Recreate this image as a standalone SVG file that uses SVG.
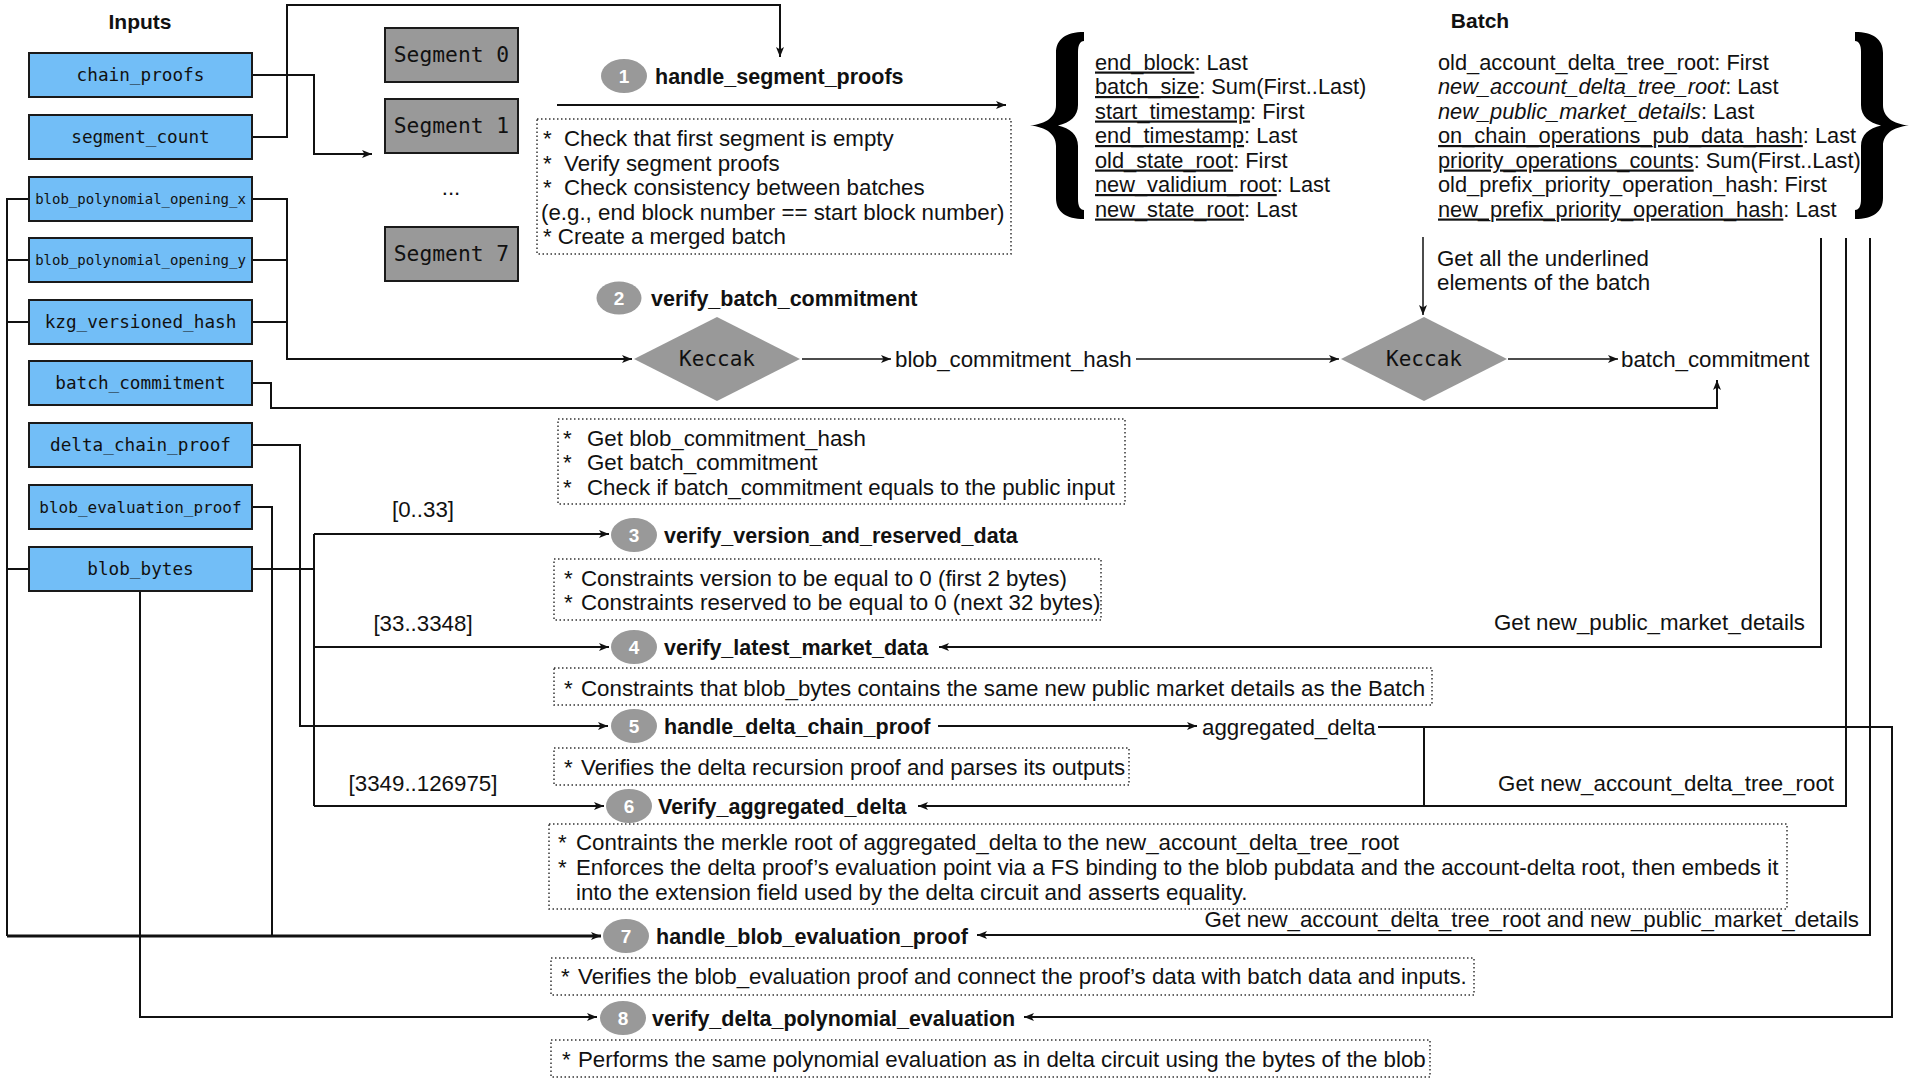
<svg xmlns="http://www.w3.org/2000/svg" width="1920" height="1080" viewBox="0 0 1920 1080">
<defs>
<style>
.t{font-family:"Liberation Sans",Arial,sans-serif;font-size:22.3px;fill:#111}
.bt{font-family:"Liberation Sans",Arial,sans-serif;font-size:21.8px;fill:#111}
.lbl{font-family:"Liberation Sans",Arial,sans-serif;font-size:21.5px;font-weight:bold;fill:#111}
.ttl{font-family:"Liberation Sans",Arial,sans-serif;font-size:21px;font-weight:bold;fill:#111}
.num{font-family:"Liberation Sans",Arial,sans-serif;font-size:19px;font-weight:bold;fill:#fff;text-anchor:middle}
.mono{font-family:"DejaVu Sans Mono","Liberation Mono",monospace;fill:#111;text-anchor:middle}
.inp{fill:#72BEF7;stroke:#1a1a1a;stroke-width:2}
.seg{fill:#999;stroke:#1a1a1a;stroke-width:2}
.dia{fill:#999}
.circ{fill:#999}
.dot{fill:none;stroke:#333;stroke-width:1.5;stroke-dasharray:1.5 2.5}
.c{fill:none;stroke:#111;stroke-width:2}
.cs{fill:none;stroke:#111;stroke-width:1.5}
.u{text-decoration:underline}
.i{font-style:italic}
</style>
<marker id="ah" markerWidth="10" markerHeight="8" refX="10" refY="4" orient="auto" markerUnits="userSpaceOnUse">
<path d="M0,0 L10,4 L0,8 L2.5,4 Z" fill="#111"/>
</marker>
</defs>
<rect width="1920" height="1080" fill="#fff"/>

<g id="connectors">
<path class="c" d="M252 137 H287 V5 H780 V57" marker-end="url(#ah)"/>
<path class="c" d="M252 75 H314 V154 H372" marker-end="url(#ah)"/>
<path class="c" d="M252 199 H287 V359 H632" marker-end="url(#ah)"/>
<path class="c" d="M252 260 H287"/>
<path class="c" d="M252 322 H287"/>
<path class="c" d="M252 383 H271 V408 H1717 V380" marker-end="url(#ah)"/>
<path class="c" d="M557 105 H1006" marker-end="url(#ah)"/>
<path class="cs" d="M802 359 H891" marker-end="url(#ah)"/>
<path class="cs" d="M1136 359 H1339" marker-end="url(#ah)"/>
<path class="cs" d="M1508 359 H1618" marker-end="url(#ah)"/>
<path class="cs" d="M1423 237 V315" marker-end="url(#ah)"/>
<path class="c" d="M252 569 H314"/>
<path class="c" d="M314 534 V806"/>
<path class="c" d="M314 534 H609" marker-end="url(#ah)"/>
<path class="c" d="M314 647 H609" marker-end="url(#ah)"/>
<path class="c" d="M314 806 H604" marker-end="url(#ah)"/>
<path class="c" d="M252 445 H300 V726 H608" marker-end="url(#ah)"/>
<path class="c" d="M252 507 H272 V936"/>
<path class="c" d="M29 199 H7 V936"/>
<path class="c" d="M29 260 H7"/>
<path class="c" d="M29 322 H7"/>
<path class="c" d="M29 569 H7"/>
<path fill="none" stroke="#111" stroke-width="3" d="M7 936 H601" marker-end="url(#ah)"/>
<path class="c" d="M140 591 V1017 H597" marker-end="url(#ah)"/>
<path class="c" d="M1821 238 V647 H939" marker-end="url(#ah)"/>
<path class="c" d="M1846 238 V806 H918" marker-end="url(#ah)"/>
<path class="c" d="M1870 238 V935 H977" marker-end="url(#ah)"/>
<path class="c" d="M938 726 H1197" marker-end="url(#ah)"/>
<path class="c" d="M1378 727 H1892 V1017 H1024" marker-end="url(#ah)"/>
<path class="c" d="M1424 727 V806"/>
</g>

<g id="inputs">
<text class="ttl" x="140" y="29" text-anchor="middle">Inputs</text>
<g id="in-chain_proofs"><rect class="inp" x="29" y="53" width="223" height="44"/><text class="mono" x="140.5" y="81" font-size="17.7">chain_proofs</text></g>
<g id="in-segment_count"><rect class="inp" x="29" y="115" width="223" height="44"/><text class="mono" x="140.5" y="143" font-size="17.7">segment_count</text></g>
<g id="in-blob_polynomial_opening_x"><rect class="inp" x="29" y="177" width="223" height="44"/><text class="mono" x="140.5" y="204" font-size="14">blob_polynomial_opening_x</text></g>
<g id="in-blob_polynomial_opening_y"><rect class="inp" x="29" y="238" width="223" height="44"/><text class="mono" x="140.5" y="265" font-size="14">blob_polynomial_opening_y</text></g>
<g id="in-kzg_versioned_hash"><rect class="inp" x="29" y="300" width="223" height="44"/><text class="mono" x="140.5" y="328" font-size="17.7">kzg_versioned_hash</text></g>
<g id="in-batch_commitment"><rect class="inp" x="29" y="361" width="223" height="44"/><text class="mono" x="140.5" y="389" font-size="17.7">batch_commitment</text></g>
<g id="in-delta_chain_proof"><rect class="inp" x="29" y="423" width="223" height="44"/><text class="mono" x="140.5" y="451" font-size="17.7">delta_chain_proof</text></g>
<g id="in-blob_evaluation_proof"><rect class="inp" x="29" y="485" width="223" height="44"/><text class="mono" x="140.5" y="513" font-size="16">blob_evaluation_proof</text></g>
<g id="in-blob_bytes"><rect class="inp" x="29" y="547" width="223" height="44"/><text class="mono" x="140.5" y="575" font-size="17.7">blob_bytes</text></g>
</g>

<g id="segments">
<g id="seg0"><rect class="seg" x="385" y="28" width="133" height="54"/><text class="mono" x="451.5" y="62" font-size="21.3">Segment 0</text></g>
<g id="seg1"><rect class="seg" x="385" y="99" width="133" height="54"/><text class="mono" x="451.5" y="133" font-size="21.3">Segment 1</text></g>
<text class="t" x="451" y="195" text-anchor="middle">...</text>
<g id="seg7"><rect class="seg" x="385" y="227" width="133" height="54"/><text class="mono" x="451.5" y="261" font-size="21.3">Segment 7</text></g>
</g>

<g id="step1">
<ellipse class="circ" cx="624" cy="76" rx="23" ry="17"/><text class="num" x="624" y="83">1</text>
<text class="lbl" x="655" y="84">handle_segment_proofs</text>
<rect class="dot" x="537" y="119" width="474" height="135"/>
<text class="t" x="543" y="146">*</text><text class="t" x="564" y="146">Check that first segment is empty</text>
<text class="t" x="543" y="170.5">*</text><text class="t" x="564" y="170.5">Verify segment proofs</text>
<text class="t" x="543" y="195">*</text><text class="t" x="564" y="195">Check consistency between batches</text>
<text class="t" x="541" y="219.5">(e.g., end block number == start block number)</text>
<text class="t" x="543" y="244">* Create a merged batch</text>
</g>

<g id="batch">
<text class="ttl" x="1480" y="28" text-anchor="middle">Batch</text>
<path fill="#000" d="M1084 32 L1084 41 C1080 41 1078 45 1078 52 L1078 105 C1078 116 1070 123 1058 125.5 C1070 128 1078 135 1078 146 L1078 199 C1078 206 1080 210 1084 210 L1084 219 C1066 219 1056 212 1056 198 L1056 146 C1056 134 1046 127 1030 125.5 C1046 124 1056 117 1056 105 L1056 53 C1056 39 1066 32 1084 32 Z"/>
<path fill="#000" transform="translate(2939,0) scale(-1,1)" d="M1084 32 L1084 41 C1080 41 1078 45 1078 52 L1078 105 C1078 116 1070 123 1058 125.5 C1070 128 1078 135 1078 146 L1078 199 C1078 206 1080 210 1084 210 L1084 219 C1066 219 1056 212 1056 198 L1056 146 C1056 134 1046 127 1030 125.5 C1046 124 1056 117 1056 105 L1056 53 C1056 39 1066 32 1084 32 Z"/>
<text class="bt" x="1095" y="69.5"><tspan class="u">end_block</tspan>: Last</text>
<text class="bt" x="1095" y="94"><tspan class="u">batch_size</tspan>: Sum(First..Last)</text>
<text class="bt" x="1095" y="118.5"><tspan class="u">start_timestamp</tspan>: First</text>
<text class="bt" x="1095" y="143"><tspan class="u">end_timestamp</tspan>: Last</text>
<text class="bt" x="1095" y="167.5"><tspan class="u">old_state_root</tspan>: First</text>
<text class="bt" x="1095" y="192"><tspan class="u">new_validium_root</tspan>: Last</text>
<text class="bt" x="1095" y="216.5"><tspan class="u">new_state_root</tspan>: Last</text>
<text class="bt" x="1438" y="69.5">old_account_delta_tree_root: First</text>
<text class="bt" x="1438" y="94"><tspan class="i">new_account_delta_tree_root</tspan>: Last</text>
<text class="bt" x="1438" y="118.5"><tspan class="i">new_public_market_details</tspan>: Last</text>
<text class="bt" x="1438" y="143"><tspan class="u">on_chain_operations_pub_data_hash</tspan>: Last</text>
<text class="bt" x="1438" y="167.5"><tspan class="u">priority_operations_counts</tspan>: Sum(First..Last)</text>
<text class="bt" x="1438" y="192">old_prefix_priority_operation_hash: First</text>
<text class="bt" x="1438" y="216.5"><tspan class="u">new_prefix_priority_operation_hash</tspan>: Last</text>
<text class="t" x="1437" y="266">Get all the underlined</text>
<text class="t" x="1437" y="290">elements of the batch</text>
</g>

<g id="step2">
<ellipse class="circ" cx="619" cy="298" rx="22.5" ry="16.5"/><text class="num" x="619" y="305">2</text>
<text class="lbl" x="651" y="306">verify_batch_commitment</text>
<g id="keccak1"><polygon class="dia" points="634,359 717,317 800,359 717,401"/><text class="mono" x="717" y="366" font-size="21" fill="#222">Keccak</text></g>
<text class="t" x="895" y="367">blob_commitment_hash</text>
<g id="keccak2"><polygon class="dia" points="1341,359 1424,317 1507,359 1424,401"/><text class="mono" x="1424" y="366" font-size="21" fill="#222">Keccak</text></g>
<text class="t" x="1621" y="367">batch_commitment</text>
<rect class="dot" x="558" y="419" width="567" height="85"/>
<text class="t" x="563" y="446">*</text><text class="t" x="587" y="446">Get blob_commitment_hash</text>
<text class="t" x="563" y="470">*</text><text class="t" x="587" y="470">Get batch_commitment</text>
<text class="t" x="563" y="494.5">*</text><text class="t" x="587" y="494.5">Check if batch_commitment equals to the public input</text>
</g>

<g id="step3">
<text class="t" x="423" y="517" text-anchor="middle">[0..33]</text>
<ellipse class="circ" cx="634" cy="535" rx="23" ry="17"/><text class="num" x="634" y="542">3</text>
<text class="lbl" x="664" y="543">verify_version_and_reserved_data</text>
<rect class="dot" x="554" y="559" width="547" height="61"/>
<text class="t" x="564" y="586">*</text><text class="t" x="581" y="586">Constraints version to be equal to 0 (first 2 bytes)</text>
<text class="t" x="564" y="610">*</text><text class="t" x="581" y="610">Constraints reserved to be equal to 0 (next 32 bytes)</text>
</g>

<g id="step4">
<text class="t" x="423" y="631" text-anchor="middle">[33..3348]</text>
<ellipse class="circ" cx="634" cy="647" rx="23" ry="17"/><text class="num" x="634" y="654">4</text>
<text class="lbl" x="664" y="655">verify_latest_market_data</text>
<text class="t" x="1805" y="630" text-anchor="end">Get new_public_market_details</text>
<rect class="dot" x="554" y="668" width="878" height="37"/>
<text class="t" x="564" y="696">*</text><text class="t" x="581" y="696">Constraints that blob_bytes contains the same new public market details as the Batch</text>
</g>

<g id="step5">
<ellipse class="circ" cx="634" cy="726" rx="23" ry="17"/><text class="num" x="634" y="733">5</text>
<text class="lbl" x="664" y="734">handle_delta_chain_proof</text>
<text class="t" x="1202" y="735">aggregated_delta</text>
<rect class="dot" x="554" y="748" width="575" height="37"/>
<text class="t" x="564" y="775">*</text><text class="t" x="581" y="775">Verifies the delta recursion proof and parses its outputs</text>
</g>

<g id="step6">
<text class="t" x="423" y="791" text-anchor="middle">[3349..126975]</text>
<ellipse class="circ" cx="629" cy="806" rx="23" ry="17"/><text class="num" x="629" y="813">6</text>
<text class="lbl" x="658" y="814">Verify_aggregated_delta</text>
<text class="t" x="1834" y="791" text-anchor="end">Get new_account_delta_tree_root</text>
<rect class="dot" x="549" y="824" width="1238" height="85"/>
<text class="t" x="558" y="850">*</text><text class="t" x="576" y="850">Contraints the merkle root of aggregated_delta to the new_account_delta_tree_root</text>
<text class="t" x="558" y="875">*</text><text class="t" x="576" y="875">Enforces the delta proof’s evaluation point via a FS binding to the blob pubdata and the account-delta root, then embeds it</text>
<text class="t" x="576" y="900">into the extension field used by the delta circuit and asserts equality.</text>
</g>

<g id="step7">
<text class="t" x="1859" y="927" text-anchor="end">Get new_account_delta_tree_root and new_public_market_details</text>
<ellipse class="circ" cx="626" cy="936" rx="23" ry="17"/><text class="num" x="626" y="943">7</text>
<text class="lbl" x="656" y="944">handle_blob_evaluation_proof</text>
<rect class="dot" x="551" y="958" width="923" height="37"/>
<text class="t" x="561" y="984">*</text><text class="t" x="578" y="984">Verifies the blob_evaluation proof and connect the proof’s data with batch data and inputs.</text>
</g>

<g id="step8">
<ellipse class="circ" cx="623" cy="1018" rx="23" ry="17"/><text class="num" x="623" y="1025">8</text>
<text class="lbl" x="652" y="1026">verify_delta_polynomial_evaluation</text>
<rect class="dot" x="551" y="1040" width="879" height="37"/>
<text class="t" x="562" y="1067">*</text><text class="t" x="578" y="1067">Performs the same polynomial evaluation as in delta circuit using the bytes of the blob</text>
</g>
</svg>
